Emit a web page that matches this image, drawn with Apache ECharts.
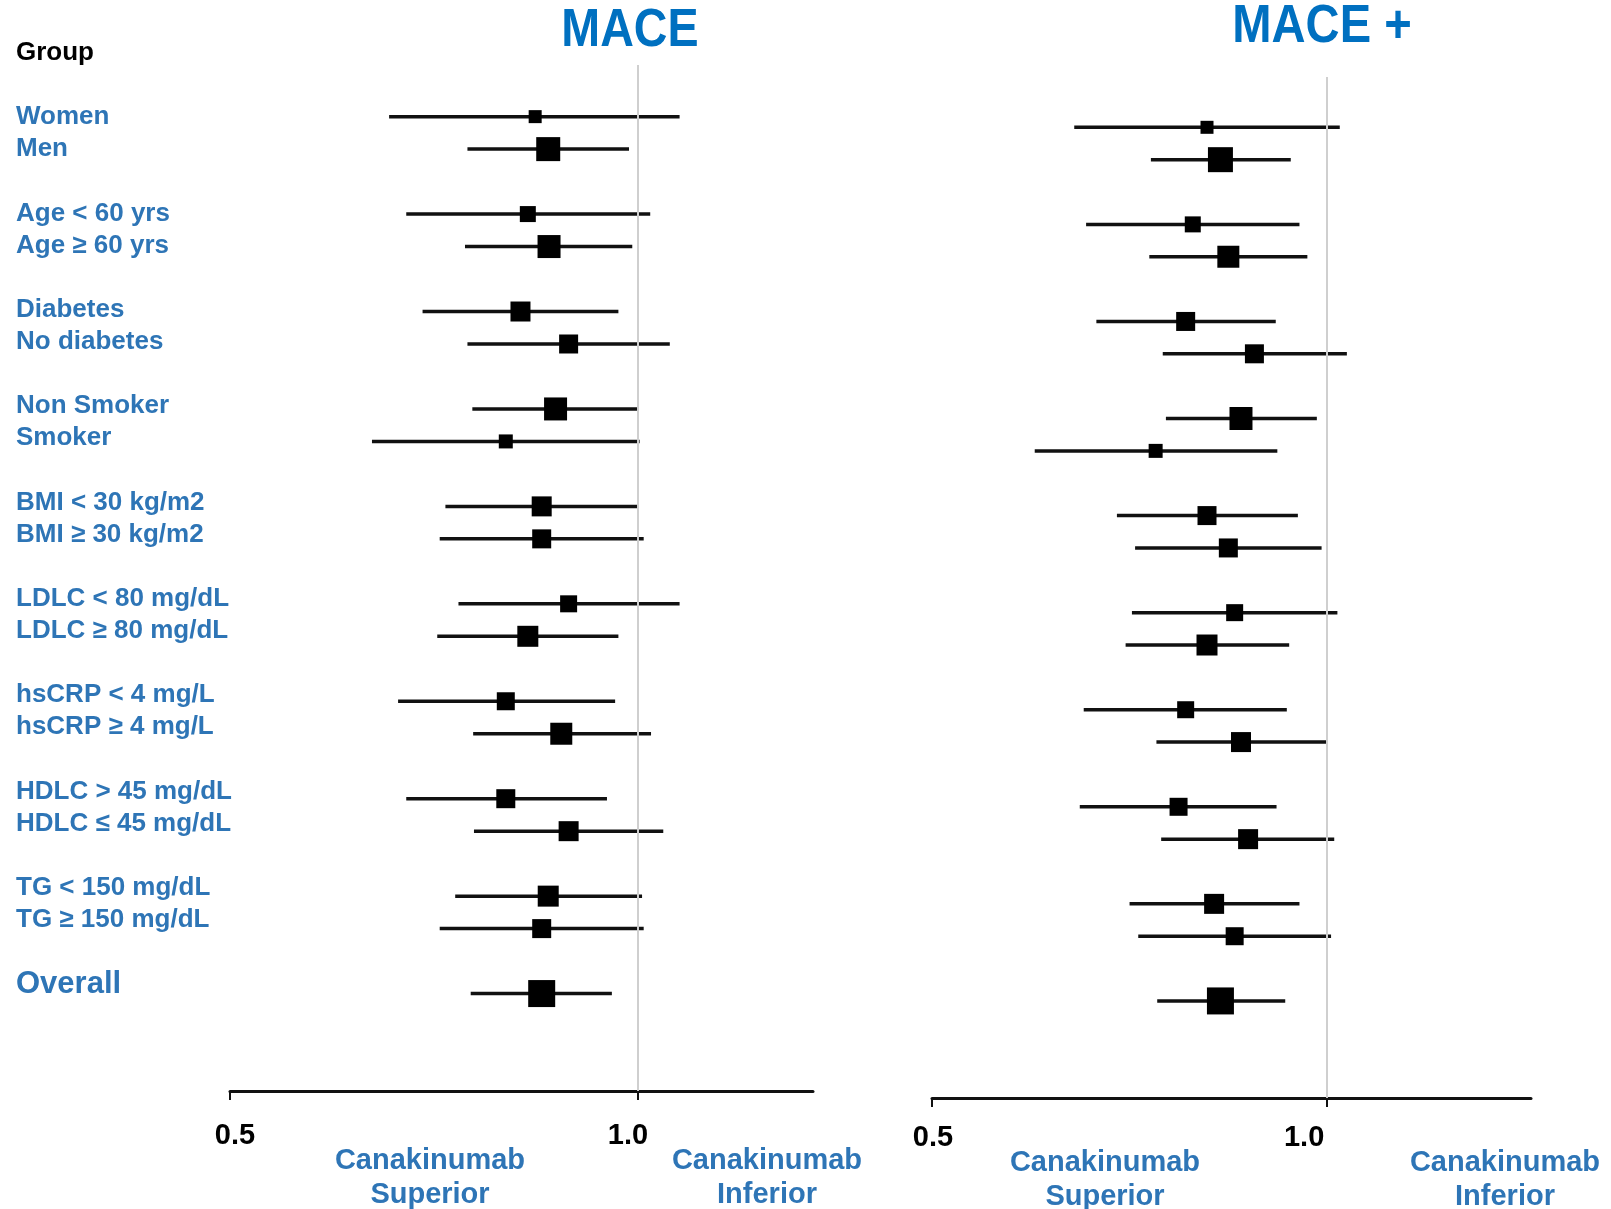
<!DOCTYPE html>
<html>
<head>
<meta charset="utf-8">
<script src="https://cdn.jsdelivr.net/npm/echarts@6/dist/echarts.min.js"></script>
<style>
  html, body { margin: 0; padding: 0; background: #fff; }
  #main { width: 1611px; height: 1209px; }
</style>
</head>
<body>
<div id="main"></div>
<script>
const groups = ['Women', 'Men', 'Age < 60 yrs', 'Age \u2265 60 yrs', 'Diabetes', 'No diabetes',
  'Non Smoker', 'Smoker', 'BMI < 30 kg/m2', 'BMI \u2265 30 kg/m2', 'LDLC < 80 mg/dL', 'LDLC \u2265 80 mg/dL',
  'hsCRP < 4 mg/L', 'hsCRP \u2265 4 mg/L', 'HDLC > 45 mg/dL', 'HDLC \u2264 45 mg/dL',
  'TG < 150 mg/dL', 'TG \u2265 150 mg/dL', 'Overall']

// MACE: hazard ratio and 95% CI
const maceHR = [0.874, 0.890, 0.865, 0.891, 0.856, 0.915, 0.899, 0.838, 0.882, 0.882, 0.915, 0.865, 0.838, 0.906, 0.838, 0.915, 0.890, 0.882, 0.882]
const maceLo = [0.695, 0.791, 0.716, 0.788, 0.736, 0.791, 0.797, 0.674, 0.764, 0.757, 0.780, 0.754, 0.706, 0.798, 0.716, 0.799, 0.776, 0.757, 0.795]
const maceHi = [1.051, 0.989, 1.015, 0.993, 0.976, 1.039, 0.999, 1.002, 0.999, 1.007, 1.051, 0.976, 0.972, 1.016, 0.962, 1.031, 1.005, 1.007, 0.968]

// MACE +
const plusHR = [0.848, 0.865, 0.830, 0.875, 0.821, 0.908, 0.891, 0.783, 0.848, 0.875, 0.883, 0.848, 0.821, 0.891, 0.812, 0.900, 0.857, 0.883, 0.865]
const plusLo = [0.680, 0.777, 0.695, 0.775, 0.708, 0.792, 0.796, 0.630, 0.734, 0.757, 0.753, 0.745, 0.692, 0.784, 0.687, 0.790, 0.750, 0.761, 0.785]
const plusHi = [1.016, 0.954, 0.965, 0.975, 0.935, 1.025, 0.987, 0.937, 0.963, 0.993, 1.013, 0.952, 0.949, 1.000, 0.936, 1.009, 0.965, 1.005, 0.947]

const xTicks = [0.5, 1.0]

const BLUE = '#2E75B6'
const TITLE_BLUE = '#0070C0'
const FONT = '"Liberation Sans", Arial, sans-serif'

// pairs of rows with an empty row between groups, overall at the end
function slotOf(k) {
    return k < 18 ? Math.floor(k / 2) * 3 + (k % 2) : 27
}

let slots = []
for (let i = 0; i < 28; i++) slots.push('')
groups.forEach((g, k) => { slots[slotOf(k)] = g })

function ciData(lo, hi) {
    return lo.map((v, k) => [slotOf(k), v, hi[k]])
}

// box size from inverse CI width, like a weighted forest plot
function boxData(hr, lo, hi, k0) {
    return hr.map((v, k) => ({
        value: [v, slotOf(k)],
        symbolSize: Math.round(k0 / (hi[k] - lo[k]))
    }))
}

function whisker(params, api) {
    let a = api.coord([api.value(1), api.value(0)])
    let b = api.coord([api.value(2), api.value(0)])
    return {
        type: 'line',
        shape: { x1: a[0], y1: a[1], x2: b[0], y2: b[1] },
        style: { stroke: '#111', lineWidth: 3.5 }
    }
}

function xAxisFor(gridIndex, max, pad1, pad05, margin) {
    return {
        type: 'value', gridIndex: gridIndex, min: 0.5, max: max,
        splitLine: { show: false },
        axisLine: { onZero: false, lineStyle: { color: '#111', width: 3 } },
        axisTick: { customValues: xTicks, length: 9, lineStyle: { color: '#111', width: 2 } },
        axisLabel: {
            customValues: xTicks, margin: margin,
            formatter: v => v === 1 ? '{one|1.0}' : '{half|0.5}',
            rich: {
                one: { fontFamily: FONT, fontWeight: 'bold', fontSize: 29, color: '#000', padding: [0, pad1, 6, 0] },
                half: { fontFamily: FONT, fontWeight: 'bold', fontSize: 29, color: '#000', padding: [0, 0, 0, pad05] }
            }
        }
    }
}

function yAxisFor(gridIndex, min, max) {
    return {
        type: 'value', gridIndex: gridIndex, inverse: true, min: min, max: max,
        show: false, splitLine: { show: false }
    }
}

function refLine() {
    return {
        silent: true, symbol: 'none', label: { show: false },
        lineStyle: { color: '#cfcfcf', width: 2, type: 'solid' },
        data: [{ xAxis: 1 }]
    }
}

function bottomText(x, y, text) {
    return {
        type: 'text', x: x, y: y,
        style: { text: text, fill: BLUE, font: 'bold 29px ' + FONT, lineHeight: 34, align: 'center', verticalAlign: 'middle' }
    }
}

let myChart = echarts.init(document.getElementById('main'))

let options = {
    backgroundColor: '#fff',
    animation: false,
    grid: [
        { left: 230, right: 798, top: 65, bottom: 118 },
        { left: 932, right: 80, top: 77, bottom: 111 },
        { left: 16, width: 220, top: 117, bottom: 225 }
    ],
    xAxis: [
        xAxisFor(0, 1.2145, 20, 10, 30),
        xAxisFor(1, 1.258, 46, 2, 25),
        { type: 'value', gridIndex: 2, show: false }
    ],
    yAxis: [
        yAxisFor(0, -1.59, 30.0),
        yAxisFor(1, -1.555, 30.0),
        {
            type: 'category', gridIndex: 2, data: slots, inverse: true, boundaryGap: false,
            axisLine: { show: false }, axisTick: { show: false },
            axisLabel: {
                inside: true, align: 'left', margin: 0, interval: 0,
                formatter: v => v === 'Overall' ? '{big|Overall}' : '{n|' + v + '}',
                rich: {
                    n: { fontFamily: FONT, fontWeight: 'bold', fontSize: 26, color: BLUE },
                    big: { fontFamily: FONT, fontWeight: 'bold', fontSize: 31, color: BLUE }
                }
            }
        }
    ],
    series: [
        {
            type: 'custom', xAxisIndex: 0, yAxisIndex: 0,
            renderItem: whisker, data: ciData(maceLo, maceHi),
            encode: { x: [1, 2], y: 0 },
            markLine: refLine(), z: 2
        },
        {
            type: 'scatter', xAxisIndex: 0, yAxisIndex: 0, symbol: 'rect',
            itemStyle: { color: '#000', opacity: 1 }, data: boxData(maceHR, maceLo, maceHi, 4.7), z: 3
        },
        {
            type: 'custom', xAxisIndex: 1, yAxisIndex: 1,
            renderItem: whisker, data: ciData(plusLo, plusHi),
            encode: { x: [1, 2], y: 0 },
            markLine: refLine(), z: 2
        },
        {
            type: 'scatter', xAxisIndex: 1, yAxisIndex: 1, symbol: 'rect',
            itemStyle: { color: '#000', opacity: 1 }, data: boxData(plusHR, plusLo, plusHi, 4.4), z: 3
        }
    ],
    graphic: [
        { type: 'text', x: 630, y: 31, scaleX: 0.88, style: { text: 'MACE', fill: TITLE_BLUE, font: 'bold 53px ' + FONT, align: 'center', verticalAlign: 'middle' } },
        { type: 'text', x: 1322, y: 27, scaleX: 0.89, style: { text: 'MACE +', fill: TITLE_BLUE, font: 'bold 53px ' + FONT, align: 'center', verticalAlign: 'middle' } },
        { type: 'text', x: 16, y: 53, style: { text: 'Group', fill: '#000', font: 'bold 26px ' + FONT, align: 'left', verticalAlign: 'middle' } },
        bottomText(430, 1178, 'Canakinumab\nSuperior'),
        bottomText(767, 1178, 'Canakinumab\nInferior'),
        bottomText(1105, 1180, 'Canakinumab\nSuperior'),
        bottomText(1505, 1180, 'Canakinumab\nInferior')
    ]
}

myChart.setOption(options)
</script>
</body>
</html>
